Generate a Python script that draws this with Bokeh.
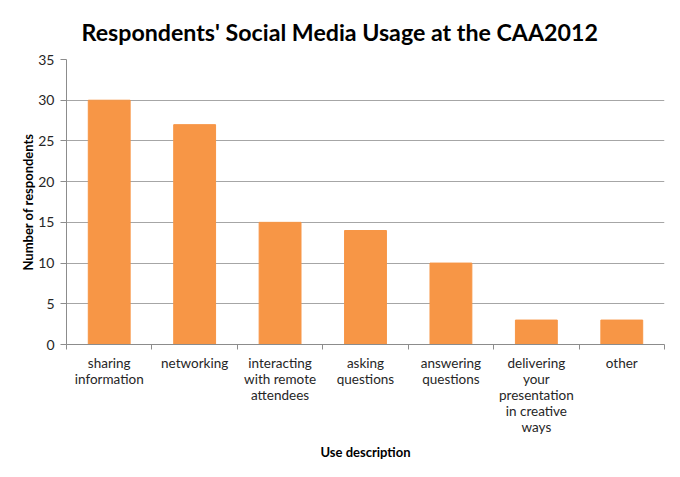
from bokeh.plotting import figure
from bokeh.models import FixedTicker, Range1d
from bokeh.embed import file_html
from bokeh.resources import INLINE

title = "Respondents' Social Media Usage at the CAA2012"
categories = ["sharing\ninformation", "networking", "interacting\nwith remote\nattendees",
              "asking\nquestions", "answering\nquestions",
              "delivering\nyour\npresentation\nin creative\nways", "other"]
values = [30, 27, 15, 14, 10, 3, 3]
y_ticks = [0, 5, 10, 15, 20, 25, 30, 35]

n = len(categories)
xs = [i + 0.5 for i in range(n)]

FONT = "Lato"

p = figure(frame_width=598, frame_height=285, output_backend="svg", toolbar_location=None,
           x_range=Range1d(0, n), y_range=Range1d(0, 35),
           min_border_left=66, min_border_right=8, min_border_top=59, min_border_bottom=110)
p.title.text = title
p.title.text_font = FONT
p.title.text_font_size = "23.2px"
p.title.text_font_style = "bold"
p.title.align = "left"
p.title.offset = 15
p.title.standoff = 28
p.title.text_color = "#000000"
p.outline_line_color = None
p.background_fill_color = "white"
p.border_fill_color = "white"

p.vbar(x=xs, top=values, width=0.49, fill_color="#f79646", line_color="#f79646")

# x axis
p.xaxis.ticker = FixedTicker(ticks=xs, minor_ticks=list(range(n + 1)))
p.xaxis.major_label_overrides = {x: c for x, c in zip(xs, categories)}
p.xaxis.major_tick_out = 0
p.xaxis.major_tick_in = 0
p.xaxis.minor_tick_out = 5
p.xaxis.minor_tick_in = 0
p.xaxis.minor_tick_line_color = "#8c8c8c"
p.xaxis.axis_line_color = "#8c8c8c"
p.xaxis.major_label_text_font = FONT
p.xaxis.major_label_text_font_size = "13.5px"
p.xaxis.major_label_text_line_height = 1.0
p.xaxis.major_label_text_color = "#262626"
p.xaxis.major_label_standoff = 5
p.xaxis.axis_label = "Use description"
p.xaxis.axis_label_text_font = FONT
p.xaxis.axis_label_text_font_size = "13px"
p.xaxis.axis_label_text_font_style = "bold"
p.xaxis.axis_label_text_color = "#000000"
p.xaxis.axis_label_standoff = 6

# y axis
p.yaxis.ticker = FixedTicker(ticks=y_ticks)
p.yaxis.major_tick_out = 6
p.yaxis.major_tick_in = 0
p.yaxis.minor_tick_line_color = None
p.yaxis.axis_line_color = "#8c8c8c"
p.yaxis.major_tick_line_color = "#8c8c8c"
p.yaxis.major_label_text_font = FONT
p.yaxis.major_label_text_font_size = "14px"
p.yaxis.major_label_text_color = "#262626"
p.yaxis.major_label_standoff = 6
p.yaxis.axis_label = "Number of respondents"
p.yaxis.axis_label_text_font = FONT
p.yaxis.axis_label_text_font_size = "13px"
p.yaxis.axis_label_text_font_style = "bold"
p.yaxis.axis_label_text_color = "#000000"
p.yaxis.axis_label_standoff = -1

p.xgrid.grid_line_color = None
p.ygrid.ticker = FixedTicker(ticks=y_ticks)
p.ygrid.grid_line_color = "#a6a6a6"
p.ygrid.grid_line_width = 1

open("out.html", "w").write(file_html(p, INLINE))
